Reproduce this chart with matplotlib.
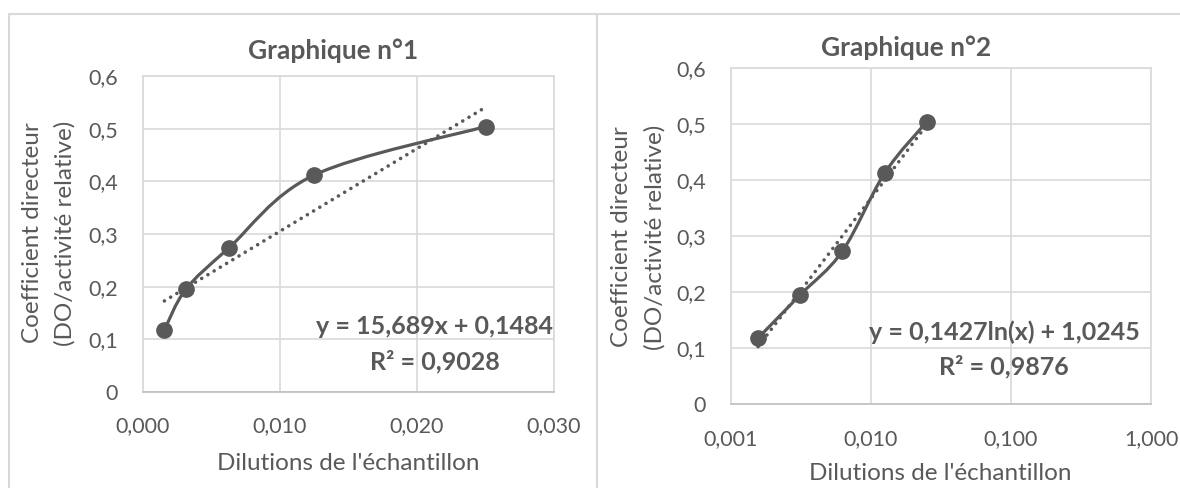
import matplotlib
matplotlib.use("Agg")
import matplotlib.pyplot as plt
import numpy as np
from matplotlib.path import Path
from matplotlib.patches import PathPatch, Rectangle
from matplotlib.ticker import FixedLocator, FuncFormatter

# data
dilutions = [0.0015625, 0.003125, 0.00625, 0.0125, 0.025]
coef = [0.118, 0.195, 0.273, 0.412, 0.504]
lin_a, lin_b = 15.689, 0.1484
log_a, log_b = 0.1427, 1.0245
eq1 = ["y = 15,689x + 0,1484", "R² = 0,9028"]
eq2 = ["y = 0,1427ln(x) + 1,0245", "R² = 0,9876"]
yticks = [0, 0.1, 0.2, 0.3, 0.4, 0.5, 0.6]
xticks1 = [0, 0.01, 0.02, 0.03]
xticks2 = [0.001, 0.01, 0.1, 1.0]

W, H = 1180, 488
DARK = "#595959"
GRID = "#d9d9d9"
FONT = "Lato"
plt.rcParams['font.family'] = [FONT, 'DejaVu Sans']

fig = plt.figure(figsize=(W / 100, H / 100), dpi=100)


def fx(px):
    return px / W


def fy(py):
    return 1 - py / H


def comma(fmt):
    return FuncFormatter(lambda v, p: (fmt % v).replace(".", ","))


def smooth_line(ax, xs, ys):
    # excel style smoothed line, built in axes coords (catmull-rom -> bezier)
    to_ax = ax.transData + ax.transAxes.inverted()
    P = to_ax.transform(np.column_stack([xs, ys]))
    n = len(P)
    verts = [P[0]]
    codes = [Path.MOVETO]
    for i in range(n - 1):
        p0 = P[i - 1] if i > 0 else P[i]
        p3 = P[i + 2] if i + 2 < n else P[i + 1]
        c1 = P[i] + (P[i + 1] - p0) / 6
        c2 = P[i + 1] - (p3 - P[i]) / 6
        verts += [c1, c2, P[i + 1]]
        codes += [Path.CURVE4] * 3
    ax.add_patch(PathPatch(Path(verts, codes), fill=False, edgecolor=DARK,
                           lw=2.3, transform=ax.transAxes, zorder=3,
                           capstyle='round'))


def style(ax, pad_y, pad_x):
    for s in ax.spines.values():
        s.set_color(GRID)
        s.set_linewidth(1.2)
    ax.spines['bottom'].set_color("#bfbfbf")
    ax.grid(True, color=GRID, lw=1.2)
    ax.set_axisbelow(True)
    ax.tick_params(length=0, labelsize=15.5, colors=DARK)
    ax.tick_params(axis='y', pad=pad_y)
    ax.tick_params(axis='x', pad=pad_x)
    ax.set_ylim(0, 0.6)
    ax.yaxis.set_major_locator(FixedLocator(yticks))
    ax.yaxis.set_major_formatter(FuncFormatter(
        lambda v, p: "0" if v == 0 else ("%.1f" % v).replace(".", ",")))


DOTS = (0, (0.01, 2.0))

# panel borders
fig.add_artist(Rectangle((fx(9), -0.1), fx(597) - fx(9), fy(14) + 0.1,
                         transform=fig.transFigure, fill=False,
                         edgecolor=GRID, lw=1.5))
fig.add_artist(Rectangle((fx(597), -0.1), fx(1200) - fx(597), fy(14) + 0.1,
                         transform=fig.transFigure, fill=False,
                         edgecolor=GRID, lw=1.5))

# graphique 1 : linear
ax1 = fig.add_axes([fx(143), fy(392), fx(554) - fx(143), fy(76) - fy(392)])
style(ax1, 18, 17)
ax1.set_xlim(0, 0.03)
ax1.xaxis.set_major_locator(FixedLocator(xticks1))
ax1.xaxis.set_major_formatter(comma("%.3f"))
xt = np.array([min(dilutions), max(dilutions)])
ax1.plot(xt, lin_a * xt + lin_b, color=DARK, lw=2.6, ls=DOTS,
         dash_capstyle='round', zorder=2)
smooth_line(ax1, dilutions, coef)
ax1.plot(dilutions, coef, 'o', color=DARK, ms=11, zorder=4)

# graphique 2 : log
ax2 = fig.add_axes([fx(731), fy(404), fx(1151) - fx(731), fy(68) - fy(404)])
ax2.set_xscale('log')
style(ax2, 18, 18)
ax2.set_xlim(0.001, 1.0)
ax2.xaxis.set_major_locator(FixedLocator(xticks2))
ax2.xaxis.set_minor_locator(FixedLocator([]))
ax2.xaxis.set_major_formatter(comma("%.3f"))
xl = np.geomspace(min(dilutions), max(dilutions), 60)
ax2.plot(xl, log_a * np.log(xl) + log_b, color=DARK, lw=2.6, ls=DOTS,
         dash_capstyle='round', zorder=2)
smooth_line(ax2, dilutions, coef)
ax2.plot(dilutions, coef, 'o', color=DARK, ms=11, zorder=4)

# titles, axis titles, equations
for cx, ty, t in [(333, 51, "Graphique n°1"), (906, 48, "Graphique n°2")]:
    fig.text(fx(cx), fy(ty), t, ha='center', va='center', fontsize=19,
             fontweight='bold', color=DARK)
for cx, ty in [(348, 463), (940, 473)]:
    fig.text(fx(cx), fy(ty), "Dilutions de l'échantillon", ha='center',
             va='center', fontsize=17.5, color=DARK)
for x1, x2, cy in [(33, 65, 233), (622, 655, 237)]:
    fig.text(fx(x1), fy(cy), "Coefficient directeur", rotation=90,
             ha='center', va='center', fontsize=17.5, color=DARK)
    fig.text(fx(x2), fy(cy), "(DO/activité relative)", rotation=90,
             ha='center', va='center', fontsize=17.5, color=DARK)
for cx, y1, y2, lines in [(435, 327, 362, eq1), (1004, 332, 367, eq2)]:
    fig.text(fx(cx), fy(y1), lines[0], ha='center', va='center',
             fontsize=18, fontweight='bold', color=DARK)
    fig.text(fx(cx), fy(y2), lines[1], ha='center', va='center',
             fontsize=18, fontweight='bold', color=DARK)

fig.savefig("out.png", dpi=100)
